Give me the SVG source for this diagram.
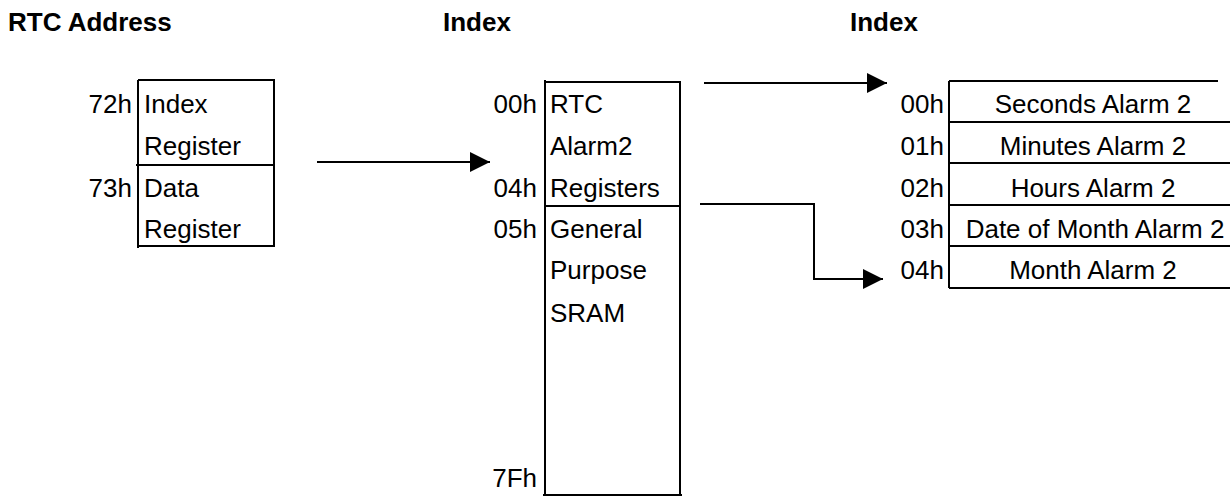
<svg xmlns="http://www.w3.org/2000/svg" width="1230" height="496" viewBox="0 0 1230 496">
<defs>
<style>
.t{font-family:"Liberation Sans",Arial,sans-serif;font-size:26px;fill:#000}
.h{font-family:"Liberation Sans",Arial,sans-serif;font-size:26px;font-weight:bold;fill:#000}
.r{text-anchor:end}
.c{text-anchor:middle}
.ln{stroke:#000;stroke-width:2;fill:none}
</style>
<marker id="ah" viewBox="0 0 20 20" refX="20" refY="10" markerWidth="20" markerHeight="20" markerUnits="userSpaceOnUse" orient="auto">
<path d="M0,0 L20,10 L0,20 Z" fill="#000"/>
</marker>
</defs>
<rect width="1230" height="496" fill="#fff"/>
<g id="titles">
<text class="h" x="8" y="31">RTC Address</text>
<text class="h" x="443" y="31">Index</text>
<text class="h" x="850" y="31">Index</text>
</g>
<g id="rtc-address">
<path class="ln" d="M138,80 V248 M138,80 H274 V246 H138 M136,165 H274"/>
<text class="t r" x="132" y="113">72h</text>
<text class="t" x="144" y="113">Index</text>
<text class="t" x="144" y="155">Register</text>
<text class="t r" x="132" y="197">73h</text>
<text class="t" x="144" y="197">Data</text>
<text class="t" x="144" y="238">Register</text>
</g>
<g id="index-map">
<path class="ln" d="M545,80 V495 M545,82 H680 V495 M543,495 H682 M545,206 H680"/>
<text class="t r" x="537" y="113">00h</text>
<text class="t" x="550" y="113">RTC</text>
<text class="t" x="550" y="155">Alarm2</text>
<text class="t r" x="537" y="197">04h</text>
<text class="t" x="550" y="197">Registers</text>
<text class="t r" x="537" y="238">05h</text>
<text class="t" x="550" y="238">General</text>
<text class="t" x="550" y="279">Purpose</text>
<text class="t" x="550" y="322">SRAM</text>
<text class="t r" x="537" y="487">7Fh</text>
</g>
<g id="alarm-registers">
<path class="ln" d="M949,81 V288 M949,81 H1218 M949,122 H1230 M949,163 H1230 M949,205 H1230 M949,246 H1230 M949,288 H1230"/>
<text class="t r" x="944" y="113">00h</text>
<text class="t c" x="1093" y="113">Seconds Alarm 2</text>
<text class="t r" x="944" y="155">01h</text>
<text class="t c" x="1093" y="155">Minutes Alarm 2</text>
<text class="t r" x="944" y="197">02h</text>
<text class="t c" x="1093" y="197">Hours Alarm 2</text>
<text class="t r" x="944" y="238">03h</text>
<text class="t c" x="1095" y="238">Date of Month Alarm 2</text>
<text class="t r" x="944" y="279">04h</text>
<text class="t c" x="1093" y="279">Month Alarm 2</text>
</g>
<g id="connectors">
<path class="ln" d="M317,162 H490" marker-end="url(#ah)"/>
<path class="ln" d="M704,83 H887" marker-end="url(#ah)"/>
<path class="ln" d="M700,204 H814 V279 H883" marker-end="url(#ah)"/>
</g>
</svg>
